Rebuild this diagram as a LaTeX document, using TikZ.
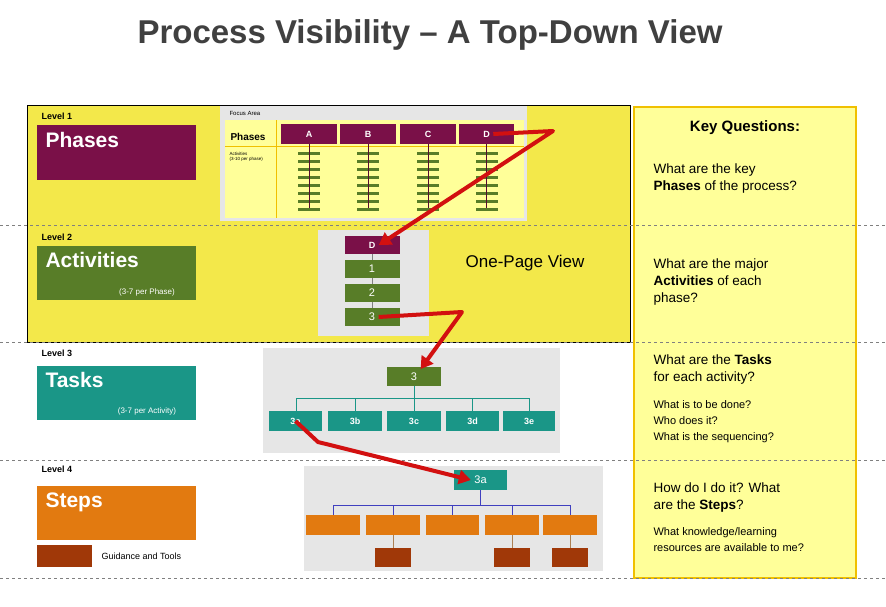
\documentclass[tikz,border=0pt]{standalone}
\usepackage{fontspec}
\setmainfont{Liberation Sans}
\usetikzlibrary{arrows.meta}
\definecolor{ylw}{RGB}{243,232,74}
\definecolor{lyl}{RGB}{255,255,153}
\definecolor{gold}{RGB}{240,192,0}
\definecolor{purp}{RGB}{122,16,72}
\definecolor{grn}{RGB}{88,125,40}
\definecolor{teal2}{RGB}{26,150,135}
\definecolor{org}{RGB}{226,122,16}
\definecolor{brn}{RGB}{160,56,8}
\definecolor{pnl}{RGB}{230,230,230}
\definecolor{rd}{RGB}{210,16,16}
\tikzset{
 box/.style={draw=none,fill=#1,inner sep=0pt},
 lvl/.style={anchor=west,font=\fontsize{9}{10}\selectfont\bfseries},
 big/.style={anchor=north west,text=white,font=\fontsize{21}{24}\selectfont\bfseries},
 sub/.style={text=white,font=\fontsize{8}{9}\selectfont},
 btxt/.style={text=white,font=\fontsize{9}{10}\selectfont\bfseries},
 dash/.style={},
 sep/.style={draw=gray,dashed,thin},
 redarr/.style={draw=rd,line width=4pt,-{Triangle[length=12pt,width=14pt]}},
 kq/.style={anchor=north west,align=left,font=\fontsize{13.5}{17}\selectfont},
 kqs/.style={anchor=north west,align=left,font=\fontsize{11}{16}\selectfont},
}
\begin{document}
\begin{tikzpicture}[x=1pt,y=-1pt]
\useasboundingbox (0,0) rectangle (886,606);
\fill[white] (0,0) rectangle (886,606);
\node[text=black!75,font=\fontsize{33}{36}\selectfont\bfseries] (title) at (430,35) {Process Visibility -- A Top-Down View};
% yellow region and key box
\draw[fill=ylw,line width=0.8pt] (27,105) rectangle (630,342);
\draw[fill=lyl,draw=gold,line width=2pt] (634,107) rectangle (856,578);
\foreach \y in {225,342,460,578} \draw[sep] (0,\y) -- (886,\y);
% Level 1
\node[lvl] (l1) at (38,116) {Level 1};
\fill[purp] (37,125) rectangle (196,180);
\node[big] (ph) at (42,129) {Phases};
\fill[pnl] (220,106) rectangle (527,221);
\fill[lyl] (225,120) rectangle (524,218);
\node[anchor=west,font=\fontsize{6}{7}\selectfont] (fa) at (226,113) {Focus Area};
\node[anchor=west,font=\fontsize{10}{11}\selectfont\bfseries] (phs) at (227,137) {Phases};
\node[anchor=north west,align=left,font=\fontsize{4.5}{5}\selectfont] (act) at (226,149) {Activities\\(3-10 per phase)};
\draw[gold] (225,146) -- (524,146);
\draw[gold] (276,120) -- (276,218);
\foreach \n/\a/\b in {A/281/337,B/340/396,C/400/456,D/459/514}{
  \pgfmathsetmacro\c{(\a+\b)/2}
  \draw[purp,thin] (\c,144) -- (\c,208);
  \foreach \k in {0,...,7} \fill[grn] (\c-11,152+\k*8) rectangle (\c+11,155+\k*8);
  \draw[purp!70!black,thin] (\c,144) -- (\c,208);
  \fill[purp] (\a,124) rectangle (\b,144);
  \node[btxt] (p\n) at (\c,134) {\n};
}
% Level 2
\node[lvl] (l2) at (38,237) {Level 2};
\fill[grn] (37,246) rectangle (196,300);
\node[big] (ac) at (42,249) {Activities};
\node[sub] (acs) at (147,292) {(3-7 per Phase)};
\fill[pnl] (318,230) rectangle (429,336);
\draw[gray] (372,245) -- (372,317);
\fill[purp] (345,236) rectangle (400,254); \node[btxt] (d2) at (372,245) {D};
\fill[grn] (345,260) rectangle (400,278); \node[text=white,font=\fontsize{11}{12}\selectfont] (a1) at (372,269) {1};
\fill[grn] (345,284) rectangle (400,302); \node[text=white,font=\fontsize{11}{12}\selectfont] (a2) at (372,293) {2};
\fill[grn] (345,308) rectangle (400,326); \node[text=white,font=\fontsize{11}{12}\selectfont] (a3) at (372,317) {3};
\node[font=\fontsize{17}{20}\selectfont] (opv) at (525,263) {One-Page View};
% Level 3
\node[lvl] (l3) at (38,353) {Level 3};
\fill[teal2] (37,366) rectangle (196,420);
\node[big] (tk) at (42,369) {Tasks};
\node[sub] (tks) at (147,411) {(3-7 per Activity)};
\fill[pnl] (263,348) rectangle (560,453);
\draw[teal2] (414,386) -- (414,398);
\draw[teal2] (296,411) -- (296,398) -- (529,398) -- (529,411);
\foreach \x in {355,472} \draw[teal2] (\x,398) -- (\x,411);
\draw[teal2] (414,398) -- (414,411);
\fill[grn] (387,367) rectangle (441,386); \node[text=white,font=\fontsize{11}{12}\selectfont] (t3) at (414,376.5) {3};
\foreach \n/\a/\b in {3a/269/322,3b/328/382,3c/387/441,3d/446/499,3e/503/555}{
  \fill[teal2] (\a,411) rectangle (\b,431);
  \node[btxt] (t\n) at ({(\a+\b)/2},421) {\n};
}
% Level 4
\node[lvl] (l4) at (38,469) {Level 4};
\fill[org] (37,486) rectangle (196,540);
\node[big] (st) at (42,489) {Steps};
\fill[brn] (37,545) rectangle (92,567);
\node[anchor=west,font=\fontsize{9}{10}\selectfont] (gt) at (98,556) {Guidance and Tools};
\fill[pnl] (304,466) rectangle (603,571);
\draw[blue!50!gray] (480,490) -- (480,505);
\draw[blue!50!gray] (333,515) -- (333,505) -- (570,505) -- (570,515);
\foreach \x in {393,452,512} \draw[blue!50!gray] (\x,505) -- (\x,515);
\foreach \x in {393,512,570} \draw[brown!70!gray] (\x,535) -- (\x,548);
\fill[teal2] (454,470) rectangle (507,490); \node[text=white,font=\fontsize{11}{12}\selectfont] (s3a) at (480.5,480) {3a};
\foreach \a/\b in {306/360,366/420,426/479,485/539,543/597} \fill[org] (\a,515) rectangle (\b,535);
\foreach \a in {375,494,552} \fill[brn] (\a,548) rectangle (\a+36,567);
% red arrows
\coordinate (r1) at (553,131);
\draw[redarr,line join=round] (pD.east) -- (r1) -- (d2.east);
\coordinate (r2) at (462,312);
\draw[redarr,line join=round] (a3.east) -- (r2) -- (t3.north east);
\coordinate (r3) at (318,442);
\draw[redarr,line join=round] (t3a.center) -- (r3) -- (s3a.west);
% key questions
\node[anchor=north,font=\fontsize{15}{18}\selectfont\bfseries] (kqh) at (745,117) {Key Questions:};
\node[kq] (q1) at (650,160) {What are the key\\\textbf{Phases} of the process?};
\node[kq] (q2) at (650,255) {What are the major\\\textbf{Activities} of each\\phase?};
\node[kq] (q3) at (650,351) {What are the \textbf{Tasks}\\for each activity?};
\node[kqs] (q3s) at (650,397) {What is to be done?\\Who does it?\\What is the sequencing?};
\node[kq] (q4) at (650,479) {How do I do it? What\\are the \textbf{Steps}?};
\node[kqs] (q4s) at (650,524) {What knowledge/learning\\resources are available to me?};
\end{tikzpicture}
\end{document}
